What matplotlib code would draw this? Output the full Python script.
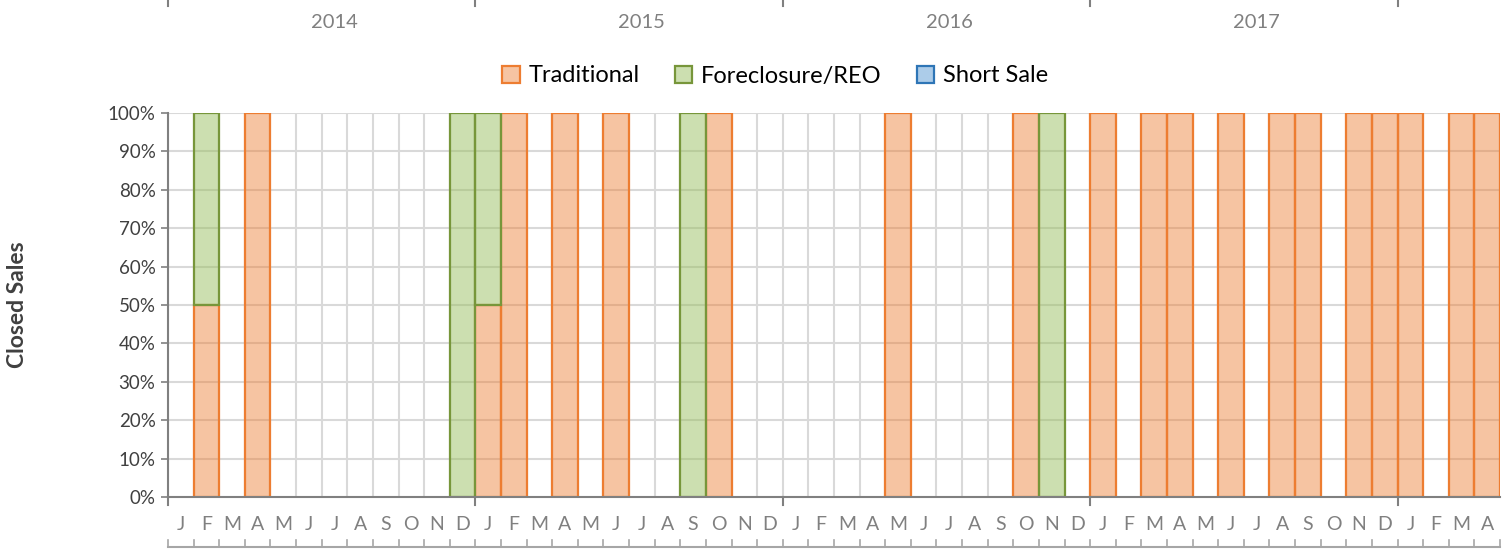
import matplotlib
matplotlib.use("Agg")
import matplotlib.pyplot as plt
from matplotlib.patches import Patch
from matplotlib.transforms import blended_transform_factory
import numpy as np

plt.rcParams['font.family'] = ['Lato', 'DejaVu Sans']

years = ["2014", "2015", "2016", "2017"]
month_labels = ["J", "F", "M", "A", "M", "J", "J", "A", "S", "O", "N", "D"] * 4 + ["J", "F", "M", "A"]

traditional = [0, 50, 0, 100, 0, 0, 0, 0, 0, 0, 0, 0,
               50, 100, 0, 100, 0, 100, 0, 0, 0, 100, 0, 0,
               0, 0, 0, 0, 100, 0, 0, 0, 0, 100, 0, 0,
               100, 0, 100, 100, 0, 100, 0, 100, 100, 0, 100, 100,
               100, 0, 100, 100]
foreclosure = [0, 50, 0, 0, 0, 0, 0, 0, 0, 0, 0, 100,
               50, 0, 0, 0, 0, 0, 0, 0, 100, 0, 0, 0,
               0, 0, 0, 0, 0, 0, 0, 0, 0, 0, 100, 0,
               0, 0, 0, 0, 0, 0, 0, 0, 0, 0, 0, 0,
               0, 0, 0, 0]
short_sale = [0] * 52

n = len(month_labels)
x = np.arange(n)
trad = np.array(traditional)
fore = np.array(foreclosure)
short = np.array(short_sale)

fig = plt.figure(figsize=(15.11, 5.5), dpi=100)
ax = fig.add_axes([168/1511, 53/550, 1332/1511, 384/550])

grid_c = '#D9D9D9'
for k in range(n + 1):
    ax.axvline(k - 0.5, color=grid_c, lw=1.5, zorder=0)
for v in range(10, 101, 10):
    ax.axhline(v, color=grid_c, lw=1.5, zorder=0)

trad_face = (237/255, 125/255, 49/255, 0.45)
fore_face = (150/255, 190/255, 90/255, 0.48)
short_face = (91/255, 155/255, 213/255, 0.5)

def lws(vals):
    return [1.6 if v > 0 else 0 for v in vals]

ax.bar(x, trad, width=1.0, facecolor=trad_face, edgecolor='#ED7D31', linewidth=lws(trad), zorder=2)
ax.bar(x, fore, width=1.0, bottom=trad, facecolor=fore_face, edgecolor='#77963A', linewidth=lws(fore), zorder=3)
ax.bar(x, short, width=1.0, bottom=trad + fore, facecolor=short_face, edgecolor='#2E75B6', linewidth=lws(short), zorder=4)

ax.set_xlim(-0.5, n - 0.5)
ax.set_ylim(0, 100)
ax.set_yticks(range(0, 101, 10))
ax.set_yticklabels([f"{v}%" for v in range(0, 101, 10)], fontsize=13.5, color='#404040')
ax.tick_params(axis='y', length=5, width=1.2, color='#808080', pad=4)
ax.set_xticks([])
for s in ['top', 'right']:
    ax.spines[s].set_visible(False)
for s in ['left', 'bottom']:
    ax.spines[s].set_color('#808080')
    ax.spines[s].set_linewidth(1.5)
ax.spines['bottom'].set_zorder(5)

ax.set_ylabel("Closed Sales", fontsize=16.5, fontweight='bold', color='#404040')
ax.yaxis.set_label_coords(-(168 - 28) / 1332, 0.5)

trf = blended_transform_factory(ax.transData, fig.transFigure)
gray = '#808080'
# month labels
for i, m in enumerate(month_labels):
    ax.text(i, 25/550, m, transform=trf, ha='center', va='center', fontsize=14, color=gray)
# bottom bracket line with month ticks
ax.plot([-0.5, n - 0.5], [3/550, 3/550], transform=trf, color='#A6A6A6', lw=1.5, clip_on=False)
for k in range(n + 1):
    ax.plot([k - 0.5, k - 0.5], [3/550, 10/550], transform=trf, color='#A6A6A6', lw=1.2, clip_on=False)
# year boundary ticks on x-axis
for yb in range(0, n + 1, 12):
    ax.plot([yb - 0.5, yb - 0.5], [53/550, 45/550], transform=trf, color=gray, lw=1.5, clip_on=False)
# top year ticks and labels
for yb in range(0, n + 1, 12):
    ax.plot([yb - 0.5, yb - 0.5], [1.0, 544/550], transform=trf, color=gray, lw=1.5, clip_on=False)
for i, yr in enumerate(years):
    ax.text(i * 12 + 6.0, 527/550, yr, transform=trf, ha='center', va='center', fontsize=14.5, color=gray)

handles = [Patch(facecolor=trad_face, edgecolor='#ED7D31', lw=1.6, label='Traditional'),
           Patch(facecolor=fore_face, edgecolor='#77963A', lw=1.6, label='Foreclosure/REO'),
           Patch(facecolor=short_face, edgecolor='#2E75B6', lw=1.6, label='Short Sale')]
fig.legend(handles=handles, loc='center', bbox_to_anchor=(775/1511, 1 - 76/550), ncol=3,
           frameon=False, fontsize=17, handlelength=0.75, handleheight=0.75,
           handletextpad=0.35, columnspacing=1.5)

fig.savefig("out.png", dpi=100)
